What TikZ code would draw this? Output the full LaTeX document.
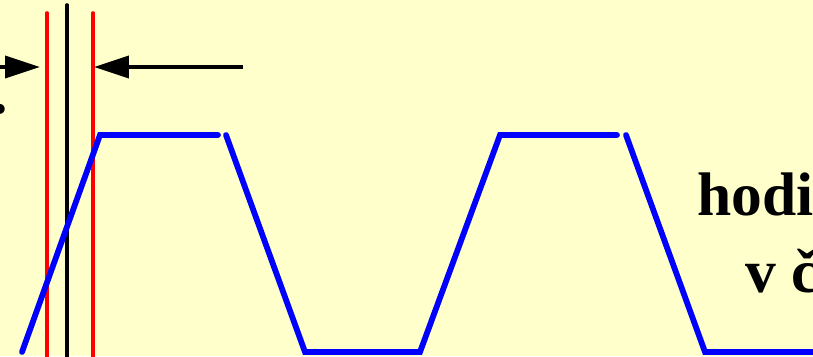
\documentclass[tikz,border=0pt]{standalone}
\usepackage{fontspec}
\setmainfont{Liberation Serif}
\usepackage{xcolor}
\usepackage{tikz}
\usetikzlibrary{arrows.meta}
\definecolor{slidebg}{RGB}{255,255,204}

\begin{document}
\begin{tikzpicture}[x=0.02cm,y=-0.02cm,
  signal/.style={blue, line width=3.3pt, line cap=round},
  limit/.style={red, line width=2.1pt, line cap=round},
  dimarrow/.style={line width=2.1pt, -{Triangle[length=0.7cm,width=0.44cm]}},
  label/.style={font=\fontsize{35}{40}\selectfont\bfseries, anchor=base west, inner sep=0pt}]
  % Background
  \fill[slidebg] (0,0) rectangle (813,356);
  \useasboundingbox (0,0) rectangle (813,356);
  % Sampling edge and limits
  \draw[limit] (47,13) -- (47,370);
  \draw[limit] (93,13) -- (93,370);
  \draw[line width=2.1pt, line cap=round] (67,5) -- (67,370);
  % Dimension arrows
  \coordinate (tailL) at (-20,67);
  \coordinate (tipL) at (40,67);
  \coordinate (tailR) at (243,67);
  \coordinate (tipR) at (94,67);
  \draw[dimarrow] (tailL) -- (tipL);
  \draw[dimarrow] (tailR) -- (tipR);
  % Clock signal
  \draw[signal] (22,352) -- (100,135) -- (218,135);
  \foreach \o in {0,400} {
    \draw[signal] (226+\o,135) -- (305+\o,352) -- (420+\o,352) -- (500+\o,135) -- (617+\o,135);
  }
  % Labels
  \node[label] (dot) at (-7.5,113) {.};
  \node[label] (hodi) at (697,215) {hodi};
  \node[label] (vc) at (745,292) {v č};
\end{tikzpicture}
\end{document}
